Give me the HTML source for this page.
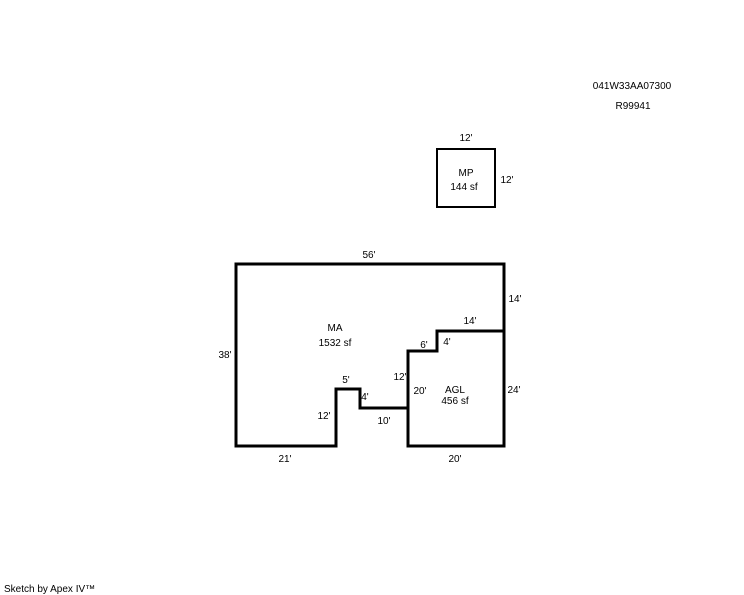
<!DOCTYPE html>
<html><head><meta charset="utf-8"><style>
html,body{margin:0;padding:0;background:#fff;}
svg{display:block}
text{font-family:"Liberation Sans",sans-serif;font-size:10px;fill:#000}
</style></head><body>
<svg width="744" height="595" viewBox="0 0 744 595">
<rect x="437" y="149" width="58" height="58" fill="none" stroke="#000" stroke-width="2"/>
<path d="M236,264 H504 V446 H408 V408 H360 V389 H336 V446 H236 Z" fill="none" stroke="#000" stroke-width="3"/>
<path d="M408,408 V351 H437 V331 H504" fill="none" stroke="#000" stroke-width="3"/>
<text x="632" y="89" text-anchor="middle">041W33AA07300</text>
<text x="633" y="109" text-anchor="middle">R99941</text>
<text x="466" y="141" text-anchor="middle">12'</text>
<text x="466" y="176" text-anchor="middle">MP</text>
<text x="464" y="190" text-anchor="middle">144 sf</text>
<text x="507" y="183" text-anchor="middle">12'</text>
<text x="369" y="258" text-anchor="middle">56'</text>
<text x="515" y="302" text-anchor="middle">14'</text>
<text x="335" y="331" text-anchor="middle">MA</text>
<text x="335" y="346" text-anchor="middle">1532 sf</text>
<text x="470" y="324" text-anchor="middle">14'</text>
<text x="424" y="348" text-anchor="middle">6'</text>
<text x="447" y="345" text-anchor="middle">4'</text>
<text x="225" y="358" text-anchor="middle">38'</text>
<text x="346" y="383" text-anchor="middle">5'</text>
<text x="400" y="380" text-anchor="middle">12'</text>
<text x="420" y="394" text-anchor="middle">20'</text>
<text x="455" y="393" text-anchor="middle">AGL</text>
<text x="455" y="404" text-anchor="middle">456 sf</text>
<text x="514" y="393" text-anchor="middle">24'</text>
<text x="365" y="400" text-anchor="middle">4'</text>
<text x="324" y="419" text-anchor="middle">12'</text>
<text x="384" y="424" text-anchor="middle">10'</text>
<text x="285" y="462" text-anchor="middle">21'</text>
<text x="455" y="462" text-anchor="middle">20'</text>
<text x="4" y="592">Sketch by Apex IV™</text>
</svg>
</body></html>
